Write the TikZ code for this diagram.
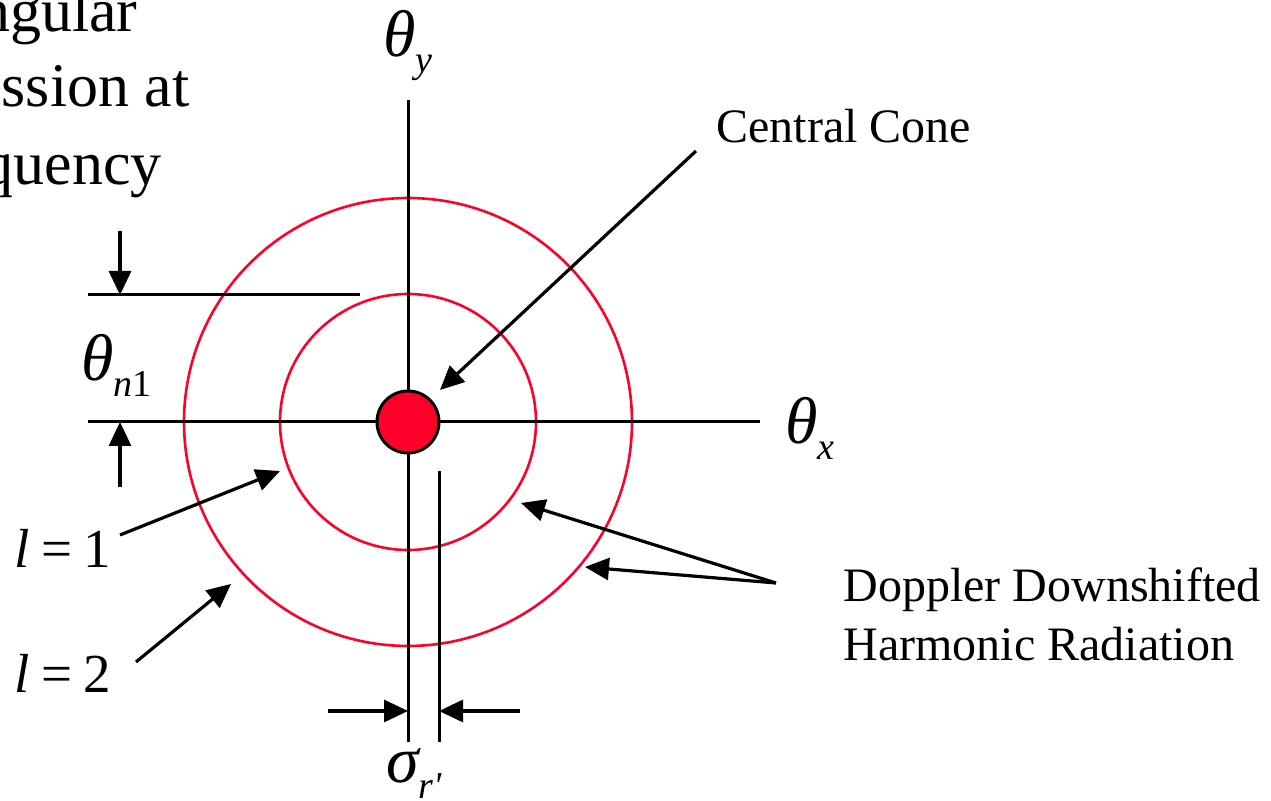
\documentclass[tikz,border=0pt]{standalone}
\usepackage{fontspec}
\setmainfont{Liberation Serif}
\usetikzlibrary{arrows.meta}
\definecolor{merah}{RGB}{255,0,40}
\newcommand{\bawah}[1]{\raisebox{-8pt}{\fontsize{19}{19}\selectfont #1}}
\tikzset{
  sumbu/.style={line width=1.5pt, black},
  cincin/.style={line width=1.3pt, draw=merah},
  titik/.style={circle, draw=black, line width=1.5pt, fill=merah,
    minimum size=31pt, inner sep=0pt},
  panah/.style={-{Triangle[length=12pt,width=11pt]}, line width=1.6pt},
  huruf/.style={inner sep=0pt, font=\fontsize{33}{33}\selectfont\itshape},
  teks/.style={inner sep=0pt, font=\fontsize{24}{29.5}\selectfont, align=left},
  judul/.style={inner sep=0pt, font=\fontsize{31}{38}\selectfont},
  nilai/.style={inner sep=0pt, font=\fontsize{27.5}{27.5}\selectfont}
}

\begin{document}
\begin{tikzpicture}[x=0.5pt, y=-0.5pt]
  \useasboundingbox (0,0) rectangle (1271,801);
  \clip (0,0) rectangle (1271,801);

  % sumbu dan garis ukur
  \coordinate (pusat) at (408,422);
  \coordinate (yatas) at (408,100);
  \coordinate (ybawah) at (408,742);
  \coordinate (xkiri) at (88,422);
  \coordinate (xkanan) at (760,422);
  \coordinate (ukur1) at (88,295);
  \coordinate (ukur2) at (360,295);
  \coordinate (lebar1) at (439,471);
  \coordinate (lebar2) at (439,742);

  \draw[cincin] (pusat) circle[radius=64pt];
  \draw[cincin] (pusat) circle[radius=112pt];
  \draw[sumbu] (yatas) -- (ybawah);
  \draw[sumbu] (xkiri) -- (xkanan);
  \draw[sumbu] (ukur1) -- (ukur2);
  \draw[sumbu] (lebar1) -- (lebar2);
  \node[titik] (kerucut) at (pusat) {};

  % label
  \node[huruf, anchor=base west] (thy) at (383,57) {θ\bawah{y}};
  \node[huruf, anchor=base west] (thx) at (785,444) {θ\bawah{x}};
  \node[huruf, anchor=base west] (thn) at (81,381) {θ\bawah{\textit{n}\upshape 1}};
  \node[huruf, anchor=base west] (sig) at (386,783) {σ\bawah{\textit{r}\textquotesingle}};
  \node[nilai, anchor=base west] (l1) at (14,568) {\textit{l}\hspace{0.22em}=\hspace{0.2em}1};
  \node[nilai, anchor=base west] (l2) at (14,693) {\textit{l}\hspace{0.22em}=\hspace{0.2em}2};
  \node[teks, anchor=base west] (ctk) at (716,143) {Central Cone};
  \node[teks, anchor=north west] (dop) at (843,567) {Doppler Downshifted\\Harmonic Radiation};
  \node[judul, anchor=base east] (j1) at (138,32) {ngular};
  \node[judul, anchor=base east] (j2) at (190,107) {ssion at};
  \node[judul, anchor=base east] (j3) at (162,185) {quency};

  % ujung panah
  \coordinate (a1) at (120,231);
  \coordinate (b1) at (120,295);
  \coordinate (a2) at (120,487);
  \coordinate (b2) at (120,422);
  \coordinate (a3) at (328,711);
  \coordinate (b3) at (408,711);
  \coordinate (a4) at (520,711);
  \coordinate (b4) at (439,711);
  \coordinate (a5) at (696,151);
  \coordinate (b5) at (440,390);
  \coordinate (a6) at (120,535);
  \coordinate (b6) at (280,471);
  \coordinate (a7) at (136,662);
  \coordinate (b7) at (231,584);
  \coordinate (a8) at (776,583);
  \coordinate (b8) at (521,503);
  \coordinate (b9) at (585,567);

  \draw[panah] (a1) -- (b1);
  \draw[panah] (a2) -- (b2);
  \draw[panah] (a3) -- (b3);
  \draw[panah] (a4) -- (b4);
  \draw[panah] (a5) -- (b5);
  \draw[panah] (a6) -- (b6);
  \draw[panah] (a7) -- (b7);
  \draw[panah] (a8) -- (b8);
  \draw[panah] (a8) -- (b9);
\end{tikzpicture}
\end{document}
